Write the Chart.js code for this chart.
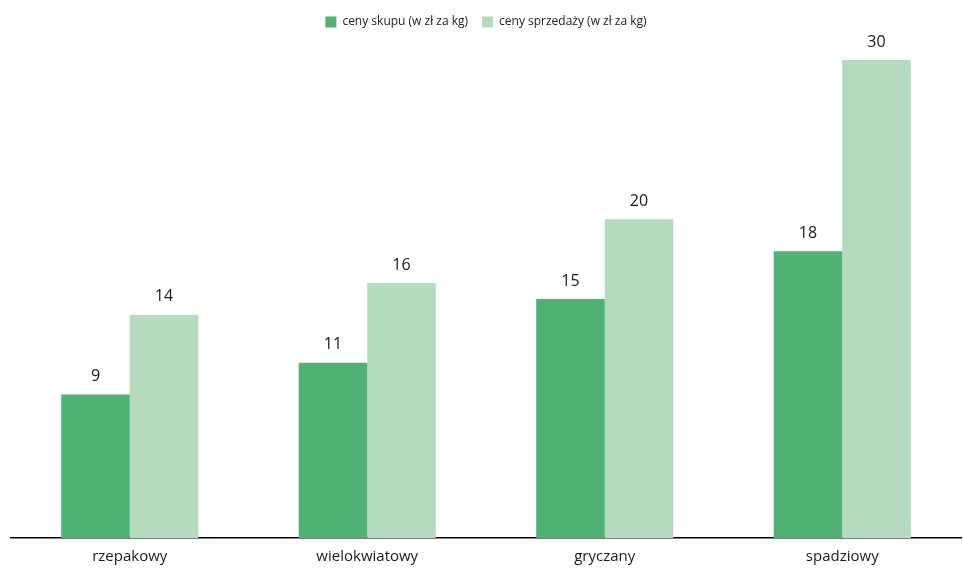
<!DOCTYPE html>
<html>
<head>
<meta charset="utf-8">
<script src="https://cdn.jsdelivr.net/npm/chart.js@4"></script>
<style>
  html, body { margin: 0; padding: 0; background: #fff; }
  #wrap { width: 963px; height: 569px; }
</style>
</head>
<body>
<div id="wrap"><canvas id="honeyChart" width="963" height="569"></canvas></div>
<script>
// categories and values
var honeyTypes = ['rzepakowy', 'wielokwiatowy', 'gryczany', 'spadziowy'];
var buyPrices = [9, 11, 15, 18];
var sellPrices = [14, 16, 20, 30];
var seriesNames = ['ceny skupu (w zł za kg)', 'ceny sprzedaży (w zł za kg)'];

//draws the value above each bar
var valueLabels = {
    id: 'valueLabels',
    afterDatasetsDraw: function(chart) {
        var ctx = chart.ctx;
        ctx.save();
        ctx.font = '16px "Open Sans"';
        ctx.fillStyle = '#1a1a1a';
        ctx.textAlign = 'center';
        ctx.textBaseline = 'middle';
        chart.data.datasets.forEach(function(ds, i) {
            chart.getDatasetMeta(i).data.forEach(function(bar, j) {
                ctx.fillText(ds.data[j], bar.x, bar.y - 18);
            });
        });
        ctx.restore();
    }
};

//adds some room under the legend
var legendGap = {
    id: 'legendGap',
    beforeInit: function(chart) {
        var fit = chart.legend.fit;
        chart.legend.fit = function() {
            fit.bind(chart.legend)();
            this.height += 22;
        };
    }
};

var ctx = document.getElementById('honeyChart').getContext('2d');
var myChart = new Chart(ctx, {
    type: 'bar',
    data: {
        labels: honeyTypes,
        datasets: [{
            label: seriesNames[0],
            data: buyPrices,
            backgroundColor: '#4fb174'
        }, {
            label: seriesNames[1],
            data: sellPrices,
            backgroundColor: '#b6dabd'
        }]
    },
    options: {
        responsive: false,
        animation: false,
        layout: { padding: { left: 11, right: 2, top: 2, bottom: -7 } },
        datasets: {
            bar: { categoryPercentage: 0.577, barPercentage: 1.0 }
        },
        plugins: {
            legend: {
                position: 'top',
                labels: {
                    boxWidth: 11,
                    boxHeight: 11,
                    padding: 14,
                    color: '#222',
                    font: { family: 'Open Sans', size: 12 }
                }
            },
            tooltip: { enabled: false }
        },
        scales: {
            x: {
                grid: { display: false, drawTicks: false },
                border: { display: true, color: '#000', width: 1.5 },
                ticks: {
                    padding: 10,
                    color: '#1a1a1a',
                    font: { family: 'Open Sans', size: 15 }
                }
            },
            y: {
                display: false,
                min: 0,
                max: 30
            }
        }
    },
    plugins: [valueLabels, legendGap]
});
</script>
</body>
</html>
